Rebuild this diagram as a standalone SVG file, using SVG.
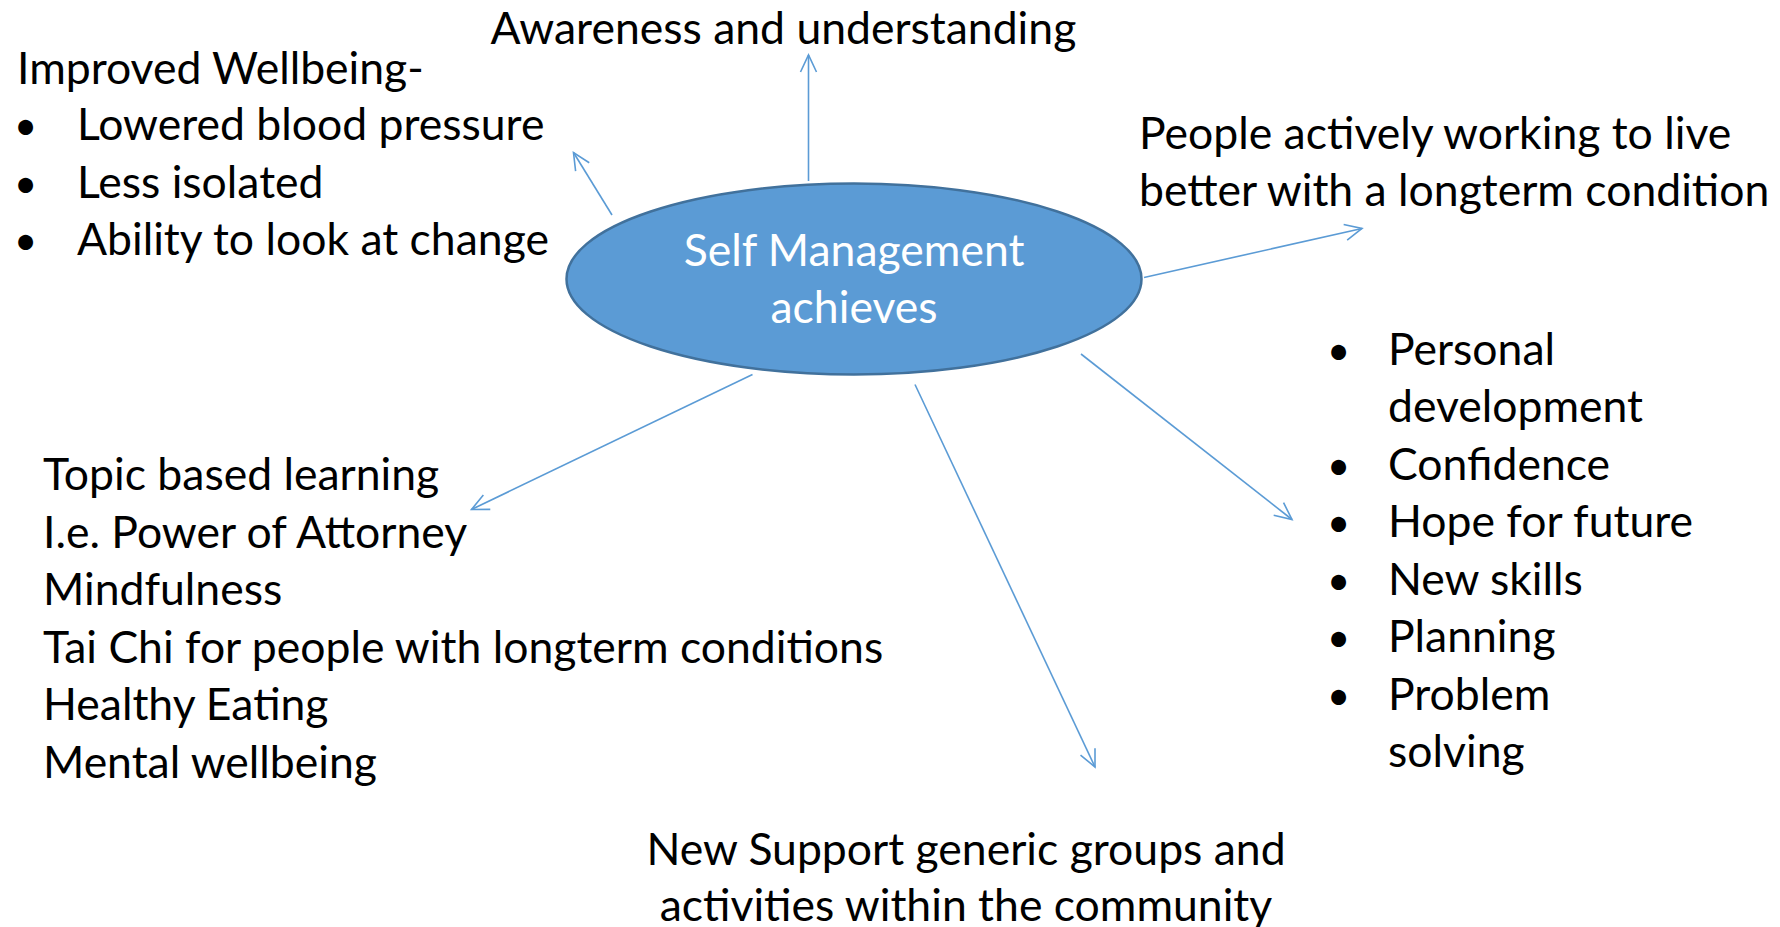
<svg xmlns="http://www.w3.org/2000/svg" width="1780" height="927" viewBox="0 0 1780 927">
<style>
  text { font-family: Lato, "Open Sans", "Noto Sans", sans-serif; font-size: 44.5px; fill: #000; }
  .center { text-anchor: middle; }
  .white { fill: #ffffff; }
  .bullet { font-size: 40px; }
  .conn { stroke: #5B9BD5; stroke-width: 1.6; fill: none; marker-end: url(#arrow); }
</style>
<defs>
  <marker id="arrow" markerUnits="userSpaceOnUse" markerWidth="40" markerHeight="40" viewBox="-20 -20 40 40" refX="0" refY="0" orient="auto">
    <path d="M -17 -8 L 0 0 L -17 8" fill="none" stroke="#5B9BD5" stroke-width="1.6"/>
  </marker>
</defs>
<rect width="1780" height="927" fill="#ffffff"/>
<g id="connectors">
  <line class="conn" x1="808.5" y1="181" x2="808.5" y2="55"/>
  <line class="conn" x1="612" y1="215" x2="573.5" y2="152.5"/>
  <line class="conn" x1="1144" y1="277.5" x2="1362" y2="228.5"/>
  <line class="conn" x1="1081" y1="354" x2="1292" y2="519.5"/>
  <line class="conn" x1="915" y1="384.5" x2="1095" y2="767"/>
  <line class="conn" x1="752.5" y1="374.5" x2="471.5" y2="509.5"/>
</g>
<g id="center-node">
  <ellipse cx="854" cy="279" rx="287.5" ry="95.5" fill="#5B9BD5" stroke="#41719C" stroke-width="2.5"/>
  <text class="center white" x="854" y="266">Self Management</text>
  <text class="center white" x="854" y="323">achieves</text>
</g>
<g id="awareness">
  <text x="490.5" y="43.5">Awareness and understanding</text>
</g>
<g id="wellbeing">
  <text x="17" y="83.5">Improved Wellbeing-</text>
  <text class="bullet" x="14" y="140">•</text><text x="77" y="140">Lowered blood pressure</text>
  <text class="bullet" x="14" y="197.5">•</text><text x="77" y="197.5">Less isolated</text>
  <text class="bullet" x="14" y="255">•</text><text x="77" y="255">Ability to look at change</text>
</g>
<g id="people-actively">
  <text x="1139" y="149">People actively working to live</text>
  <text x="1139" y="206">better with a longterm condition</text>
</g>
<g id="personal">
  <text class="bullet" x="1327" y="364.5">•</text><text x="1388" y="364.5">Personal</text>
  <text x="1388" y="422">development</text>
  <text class="bullet" x="1327" y="479.5">•</text><text x="1388" y="479.5">Confidence</text>
  <text class="bullet" x="1327" y="537">•</text><text x="1388" y="537">Hope for future</text>
  <text class="bullet" x="1327" y="594.5">•</text><text x="1388" y="594.5">New skills</text>
  <text class="bullet" x="1327" y="652">•</text><text x="1388" y="652">Planning</text>
  <text class="bullet" x="1327" y="709.5">•</text><text x="1388" y="709.5">Problem</text>
  <text x="1388" y="767">solving</text>
</g>
<g id="topic-learning">
  <text x="43" y="490">Topic based learning</text>
  <text x="43" y="547.5">I.e. Power of Attorney</text>
  <text x="43" y="605">Mindfulness</text>
  <text x="43" y="662.5">Tai Chi for people with longterm conditions</text>
  <text x="43" y="720">Healthy Eating</text>
  <text x="43" y="777.5">Mental wellbeing</text>
</g>
<g id="support-groups">
  <text class="center" x="966" y="864.5">New Support generic groups and</text>
  <text class="center" x="966" y="921">activities within the community</text>
</g>
</svg>
